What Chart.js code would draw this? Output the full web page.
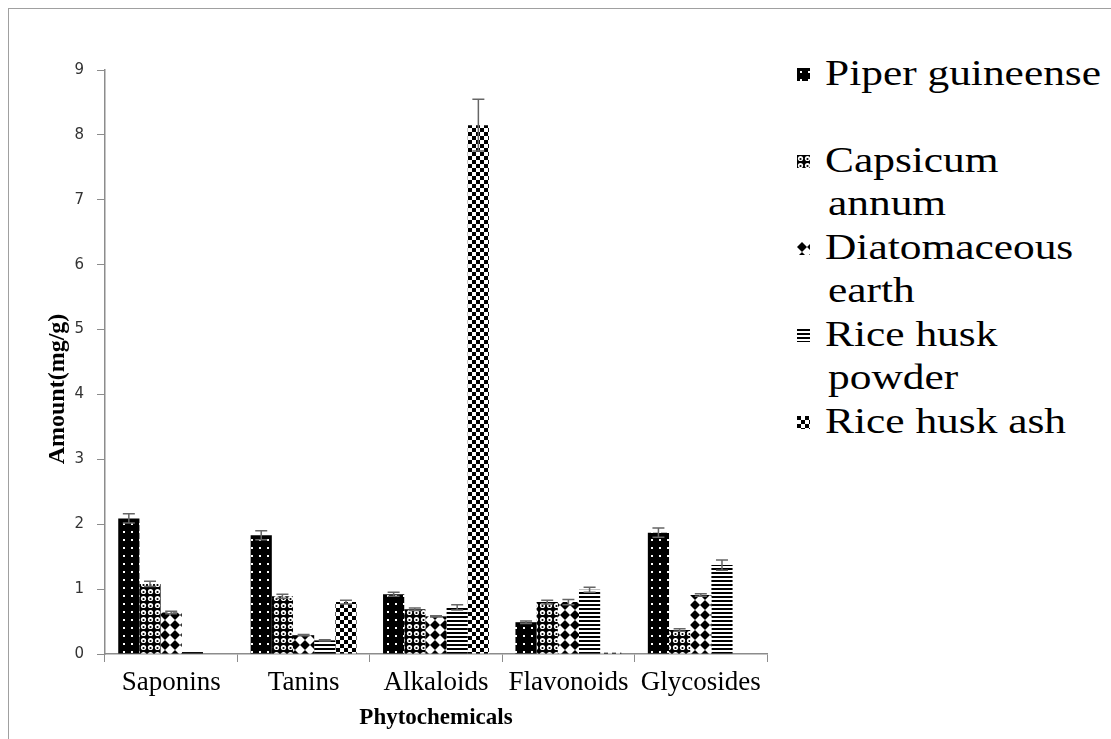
<!DOCTYPE html>
<html>
<head>
<meta charset="utf-8">
<script src="https://cdn.jsdelivr.net/npm/chart.js@4.4.0/dist/chart.umd.min.js"></script>
<style>
  body { margin: 0; background: #fff; width: 1111px; height: 739px; overflow: hidden; position: relative; }
  #frame { position: absolute; left: 8px; top: 8px; width: 1110px; height: 740px; border: 1px solid #a0a0a0; box-sizing: border-box; }
  #wrap { position: absolute; left: 0; top: 0; width: 790px; height: 739px; }
  .item { position: absolute; left: 0; font-family: "Liberation Serif", "Times New Roman", serif; font-size: 35px; line-height: 43px; color: #000; }
  .item canvas { position: absolute; left: 797px; }
  .item span { position: absolute; left: 825px; white-space: nowrap; transform: scaleX(1.24); transform-origin: left top; }
</style>
</head>
<body>
<div id="frame"></div>
<div id="wrap"><canvas id="myChart" width="790" height="739"></canvas></div>
<div id="legend"></div>
<script>
// values (mg/g)
const categories = ["Saponins", "Tanins", "Alkaloids", "Flavonoids", "Glycosides"];
const seriesNames = ["Piper guineense", "Capsicum annum", "Diatomaceous earth", "Rice husk powder", "Rice husk ash"];
const legendLines = [["Piper guineense"], ["Capsicum", "annum"], ["Diatomaceous", "earth"], ["Rice husk", "powder"], ["Rice husk ash"]];

const piperValues = [2.09, 1.83, 0.92, 0.49, 1.87];
const capsicumValues = [1.08, 0.89, 0.69, 0.80, 0.37];
const diatomValues = [0.64, 0.29, 0.58, 0.80, 0.91];
const huskPowderValues = [0.03, 0.21, 0.72, 0.99, 1.37];
const huskAshValues = [0.00, 0.80, 8.15, 0.02, 0.00];

const piperErrors = [0.07, 0.07, 0.03, 0.02, 0.07];
const capsicumErrors = [0.04, 0.03, 0.02, 0.03, 0.02];
const diatomErrors = [0.02, 0.01, 0.01, 0.04, 0.02];
const huskPowderErrors = [0.00, 0.01, 0.04, 0.04, 0.08];
const huskAshErrors = [0.00, 0.03, 0.40, 0.00, 0.00];

const yTicks = [0, 1, 2, 3, 4, 5, 6, 7, 8, 9];

const allValues = [piperValues, capsicumValues, diatomValues, huskPowderValues, huskAshValues];
const allErrors = [piperErrors, capsicumErrors, diatomErrors, huskPowderErrors, huskAshErrors];

// black & white fill patterns, like the old office chart
function makeTile(size, draw) {
    const c = document.createElement("canvas");
    c.width = size;
    c.height = size;
    draw(c.getContext("2d"), size);
    return c;
}

const tiles = [
    makeTile(8, (g, s) => { // dots
        g.fillStyle = "#000"; g.fillRect(0, 0, s, s);
        g.fillStyle = "#fff"; g.fillRect(3, 3, 2, 2);
    }),
    makeTile(7, (g, s) => { // rings
        g.fillStyle = "#000"; g.fillRect(0, 0, s, s);
        g.fillStyle = "#fff"; g.beginPath(); g.arc(3.5, 3.5, 2.6, 0, 2 * Math.PI); g.fill();
        g.fillStyle = "#000"; g.beginPath(); g.arc(3.5, 4, 1.1, 0, 2 * Math.PI); g.fill();
    }),
    makeTile(10, (g, s) => { // diamonds
        g.fillStyle = "#fff"; g.fillRect(0, 0, s, s);
        g.fillStyle = "#000"; g.beginPath();
        g.moveTo(5, 0); g.lineTo(10, 5); g.lineTo(5, 10); g.lineTo(0, 5); g.closePath(); g.fill();
    }),
    makeTile(4, (g, s) => { // horizontal lines
        g.fillStyle = "#fff"; g.fillRect(0, 0, s, s);
        g.fillStyle = "#000"; g.fillRect(0, 0, s, 2);
    }),
    makeTile(8, (g, s) => { // checkerboard
        g.fillStyle = "#fff"; g.fillRect(0, 0, s, s);
        g.fillStyle = "#000"; g.fillRect(0, 0, 4, 4); g.fillRect(4, 4, 4, 4);
    }),
];

const ctx = document.getElementById("myChart").getContext("2d");
const patterns = tiles.map((t) => ctx.createPattern(t, "repeat"));

// error bars drawn through the y scale
const errorBars = {
    id: "errorBars",
    afterDatasetsDraw(chart) {
        const y = chart.scales.y;
        const c = chart.ctx;
        c.save();
        c.strokeStyle = "#666";
        c.lineWidth = 1.5;
        chart.data.datasets.forEach((ds, i) => {
            const meta = chart.getDatasetMeta(i);
            meta.data.forEach((bar, j) => {
                const e = allErrors[i][j];
                if (!e) return;
                const v = ds.data[j];
                const top = y.getPixelForValue(v + e);
                const bottom = y.getPixelForValue(v - e);
                c.beginPath();
                c.moveTo(bar.x, top); c.lineTo(bar.x, bottom);
                c.moveTo(bar.x - 6, top); c.lineTo(bar.x + 6, top);
                c.moveTo(bar.x - 6, bottom); c.lineTo(bar.x + 6, bottom);
                c.stroke();
            });
        });
        c.restore();
    },
};

const chart = new Chart(ctx, {
    type: "bar",
    data: {
        labels: categories,
        datasets: seriesNames.map((name, i) => ({
            label: name,
            data: allValues[i],
            backgroundColor: patterns[i],
            borderWidth: 0,
            categoryPercentage: 0.8,
            barPercentage: 1.0,
        })),
    },
    options: {
        responsive: false,
        animation: false,
        layout: { padding: { top: 70, right: 23, left: 0, bottom: 0 } },
        plugins: { legend: { display: false }, tooltip: { enabled: false } },
        scales: {
            x: {
                grid: { display: true, drawOnChartArea: false, offset: true, tickLength: 8, color: "#8c8c8c" },
                border: { color: "#8c8c8c", width: 1.5 },
                ticks: { color: "#000", padding: 5, maxRotation: 0, autoSkip: false, font: { family: "Liberation Serif", size: 27 } },
                title: {
                    display: true, text: "Phytochemicals", color: "#000",
                    font: { family: "Liberation Serif", size: 23, weight: "bold" },
                    padding: { top: 0, bottom: 7 },
                },
                afterFit(scale) { scale.height = 85; },
            },
            y: {
                min: 0,
                max: 9,
                afterBuildTicks(scale) { scale.ticks = yTicks.map((v) => ({ value: v })); },
                grid: { display: true, drawOnChartArea: false, tickLength: 8, color: "#8c8c8c" },
                border: { color: "#8c8c8c", width: 1.5 },
                ticks: { color: "#333", padding: 13, font: { family: "DejaVu Sans", size: 15 } },
                title: {
                    // trailing spaces push the text down a little, as in the original
                    display: true, text: "Amount(mg/g)\u00a0\u00a0\u00a0\u00a0\u00a0\u00a0\u00a0\u00a0\u00a0", color: "#000",
                    font: { family: "Liberation Serif", size: 24, weight: "bold" },
                    padding: { top: 43, bottom: 0 },
                },
                afterFit(scale) { scale.width = 105; },
            },
        },
    },
    plugins: [errorBars],
});

// legend on the right, with wrapped names
const legend = document.getElementById("legend");
legendLines.forEach((lines, i) => {
    const top = 52 + 87 * i;
    lines.forEach((line, k) => {
        const item = document.createElement("div");
        item.className = "item";
        item.style.top = (top + 43 * k) + "px";
        const span = document.createElement("span");
        span.textContent = line;
        span.style.left = k === 0 ? "825px" : "828px";
        item.appendChild(span);
        if (k === 0) {
            const sw = document.createElement("canvas");
            sw.width = 13;
            sw.height = 13;
            sw.style.top = "16px";
            const g = sw.getContext("2d");
            g.fillStyle = g.createPattern(tiles[i], "repeat");
            g.fillRect(0, 0, 13, 13);
            item.appendChild(sw);
        }
        legend.appendChild(item);
    });
});
</script>
</body>
</html>
